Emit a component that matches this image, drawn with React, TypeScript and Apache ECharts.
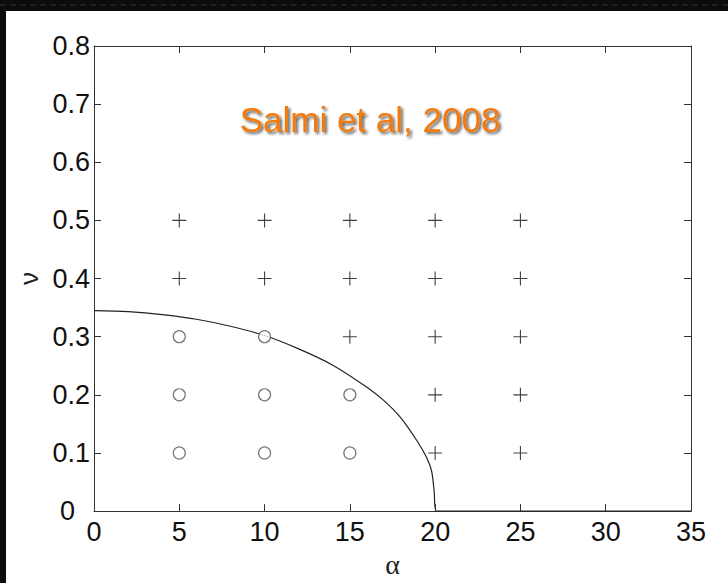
import React, { useEffect, useRef } from "react";
import * as echarts from "echarts";

// Stability boundary curve (alpha, nu)
const curveAlpha = [0, 2, 4, 6, 8, 10, 12, 14, 16, 17, 18, 19, 19.5, 19.79, 19.94, 20.07, 35];
const curveNu = [0.345, 0.343, 0.338, 0.33, 0.318, 0.302, 0.279, 0.251, 0.213, 0.19, 0.16, 0.118, 0.092, 0.069, 0.035, 0, 0];

// Unstable cases (plus markers)
const plusAlpha = [5, 10, 15, 20, 25, 5, 10, 15, 20, 25, 15, 20, 25, 20, 25, 20, 25];
const plusNu = [0.5, 0.5, 0.5, 0.5, 0.5, 0.4, 0.4, 0.4, 0.4, 0.4, 0.3, 0.3, 0.3, 0.2, 0.2, 0.1, 0.1];

// Stable cases (circle markers)
const circleAlpha = [5, 10, 5, 10, 15, 5, 10, 15];
const circleNu = [0.3, 0.3, 0.2, 0.2, 0.2, 0.1, 0.1, 0.1];

const xTicks = { min: 0, max: 35, interval: 5 };
const yTicks = { min: 0, max: 0.8, interval: 0.1 };

const titleText = "Salmi et al, 2008";

const zip = (a: number[], b: number[]) => a.map((v, i) => [v, b[i]]);

export default function App() {
  const ref = useRef<HTMLDivElement>(null);

  useEffect(() => {
    if (!ref.current) return;
    const chart = echarts.init(ref.current, null, { renderer: "svg" });
    const axisColor = "#333";
    const labelFont = "'Liberation Sans', Arial, sans-serif";
    const tickFontSize = 27;
    const baseX = {
      type: "value" as const,
      ...xTicks,
      splitLine: { show: false },
      axisLine: { show: true, onZero: false, lineStyle: { color: axisColor, width: 1 } },
      axisTick: { show: true, inside: true, length: 7, lineStyle: { color: axisColor } },
    };
    const baseY = {
      type: "value" as const,
      ...yTicks,
      splitLine: { show: false },
      axisLine: { show: true, onZero: false, lineStyle: { color: axisColor, width: 1 } },
      axisTick: { show: true, inside: true, length: 7, lineStyle: { color: axisColor } },
    };
    chart.setOption({
      animation: false,
      backgroundColor: "#ffffff",
      grid: { left: 88, right: 37, top: 35, bottom: 62, containLabel: false },
      graphic: [
        {
          type: "text",
          x: 364,
          y: 108,
          style: {
            text: titleText,
            fill: "#f27a0c",
            font: "35px 'Liberation Sans', Arial, sans-serif",
            textAlign: "center",
            textVerticalAlign: "middle",
            textShadowColor: "rgba(0,0,0,0.65)",
            textShadowBlur: 3,
            textShadowOffsetX: 2,
            textShadowOffsetY: 2,
          },
        },
      ],
      xAxis: [
        {
          ...baseX,
          position: "bottom",
          name: "α",
          nameLocation: "middle",
          nameGap: 26,
          nameTextStyle: { fontFamily: "'Liberation Serif', serif", fontSize: 28, color: "#222" },
          axisLabel: { fontSize: tickFontSize, color: "#111", fontFamily: labelFont, margin: 7 },
        },
        { ...baseX, position: "top", axisLabel: { show: false } },
      ],
      yAxis: [
        {
          ...baseY,
          position: "left",
          name: "ν",
          nameLocation: "middle",
          nameRotate: 90,
          nameGap: 49,
          nameTextStyle: { fontFamily: labelFont, fontSize: 26, color: "#222" },
          axisLabel: {
            fontSize: tickFontSize,
            color: "#111",
            fontFamily: labelFont,
            margin: 4,
            formatter: (v: number) => (v === 0 ? "{z|0}" : v.toFixed(1)),
            rich: {
              z: {
                fontSize: tickFontSize,
                fontFamily: labelFont,
                color: "#111",
                padding: [0, 15, 0, 0],
              },
            },
          },
        },
        { ...baseY, position: "right", axisLabel: { show: false } },
      ],
      series: [
        {
          type: "line",
          xAxisIndex: 0,
          yAxisIndex: 0,
          data: zip(curveAlpha, curveNu),
          showSymbol: false,
          smooth: 0.3,
          lineStyle: { color: "#222", width: 1.2 },
          z: 3,
        },
        {
          type: "scatter",
          xAxisIndex: 0,
          yAxisIndex: 0,
          data: zip(plusAlpha, plusNu),
          symbol: "path://M0,7H14M7,0V14",
          symbolSize: 14,
          itemStyle: { color: "none", borderColor: "#111", borderWidth: 1.1 },
          z: 4,
        },
        {
          type: "scatter",
          xAxisIndex: 0,
          yAxisIndex: 0,
          data: zip(circleAlpha, circleNu),
          symbol: "circle",
          symbolSize: 12,
          itemStyle: { color: "#fff", borderColor: "#555", borderWidth: 1.2 },
          z: 4,
        },
      ],
    });
    return () => chart.dispose();
  }, []);

  return (
    <div
      style={{
        position: "fixed",
        left: 0,
        top: 0,
        width: 728,
        height: 583,
        background: "#0c0c0c",
        overflow: "hidden",
      }}
    >
      <div
        style={{
          position: "absolute",
          left: 0,
          top: 4,
          width: 728,
          height: 0,
          borderTop: "2px dashed #1f1f1f",
        }}
      />
      <div
        ref={ref}
        style={{ position: "absolute", left: 6, top: 11, width: 722, height: 572 }}
      />
    </div>
  );
}
